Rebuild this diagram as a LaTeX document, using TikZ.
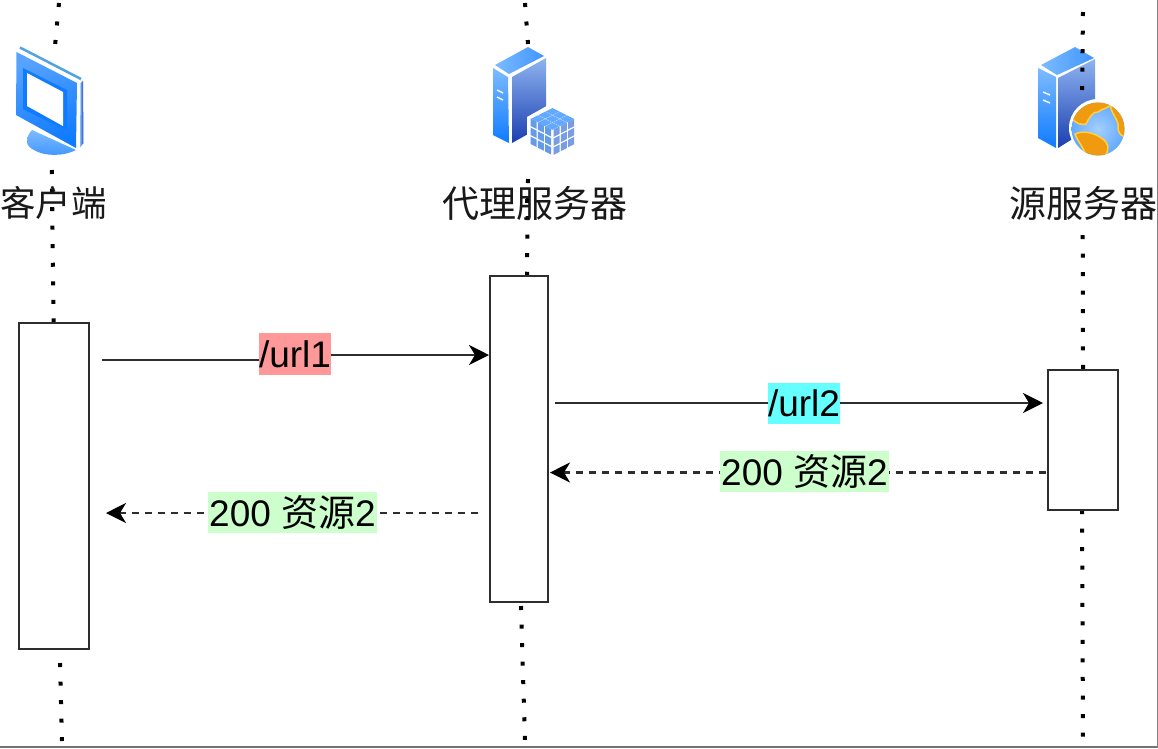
\documentclass[tikz,border=0pt]{standalone}
\usepackage{fontspec}
\setmainfont{Liberation Sans}
\newfontfamily\cjk{Noto Sans CJK SC}
\usetikzlibrary{arrows.meta}
\definecolor{lineink}{HTML}{2E2E2E}
\definecolor{skyA}{HTML}{7DBBFF}
\definecolor{skyB}{HTML}{0F7BFF}
\definecolor{navy}{HTML}{1A3FB0}
\definecolor{paleblue}{HTML}{8FB4F0}
\definecolor{tagred}{HTML}{FF9999}
\definecolor{tagcyan}{HTML}{66FFFF}
\definecolor{taggreen}{HTML}{CCFFCC}
\definecolor{land}{HTML}{F09A10}
\definecolor{shore}{HTML}{FFD040}
\tikzset{
  lifeline/.style={black,line width=4pt,dash pattern=on 4pt off 14.55pt},
  actbox/.style={draw=lineink,line width=2pt,fill=white},
  role/.style={font=\fontsize{37}{37}\selectfont\cjk,inner sep=0pt,text=black!90},
  msgtag/.style={font=\fontsize{37}{37}\selectfont,inner sep=0pt,text=black,anchor=center},
  msgline/.style={lineink,line width=2.4pt},
  msgreturn/.style={lineink,line width=2.4pt,dash pattern=on 7pt off 6pt},
  tip/.style={-{Stealth[length=20pt,width=20pt,inset=6pt,color=black]}},
  tipback/.style={{Stealth[length=20pt,width=20pt,inset=6pt,color=black]}-},
  continent/.style={fill=land,draw=shore,line width=1.5pt},
}
% Tower server drawn from its three visible faces
\newcommand{\towerface}[7]{%
  \shade[top color=#1,bottom color=#2] #3;%
  \shade[top color=#4,bottom color=#5] #6;%
  \shade[left color=skyA,right color=skyB!80!white] #7;%
}
\begin{document}
\begin{tikzpicture}[x=1pt,y=-1pt]
\useasboundingbox (0,0) rectangle (1158,748);
\fill[white] (0,0) rectangle (1158,748);

% frame edges
\fill[black!55] (0,745.5) rectangle (1158,748);
\fill[black!50] (1156.6,0) rectangle (1158,748);

% lifelines
\coordinate (cA) at (59,3); \coordinate (cB) at (55.2,44);
\coordinate (cC) at (51.8,170); \coordinate (cD) at (53.6,322);
\coordinate (cE) at (60,663); \coordinate (cF) at (62,741);
\coordinate (pA) at (525,3); \coordinate (pB) at (528,44);
\coordinate (pC) at (528,179); \coordinate (pD) at (527,276);
\coordinate (pE) at (521,606); \coordinate (pF) at (525,743);
\coordinate (sA) at (1083,12); \coordinate (sB) at (1082,90);
\coordinate (sC) at (1082.7,235); \coordinate (sD) at (1083,369);
\coordinate (sE) at (1082,510); \coordinate (sF) at (1083,741);
\foreach \a/\b in {cA/cB,cC/cD,cE/cF,pA/pB,pC/pD,pE/pF,sC/sD,sE/sF}
  \draw[lifeline] (\a) -- (\b);

% client monitor
\shade[left color=skyA,right color=navy] (80.5,83) -- (83,81) -- (83.5,143) -- (80,147.5) -- cycle;
\shade[top color=skyA,bottom color=skyB!80!white] (27,142) .. controls (27,137) and (29,133) .. (32,130) -- (76,150) .. controls (65,156) and (45,157) .. (34,150) .. controls (30,148) and (27,145) .. cycle;
\shade[top color=skyB!70!white,bottom color=skyB,shading angle=20] (16.5,52) -- (77,83) -- (76,148) -- (16,115) -- cycle;
\fill[skyB] (23,68) -- (67,90) -- (67,131) -- (23,109) -- cycle;
\fill[white] (27,73) -- (63,92) -- (63,126) -- (27,106) -- cycle;
\draw[cyan!70!blue!70!white,line width=2.5pt] (20,47.5) -- (81,79);

% proxy tower
\towerface{skyA}{skyB}{(493,68) -- (508,77) -- (509,143) -- (493,135) -- cycle}{paleblue}{navy}{(512,77) -- (546,58) -- (546,124) -- (512,143) -- cycle}{(495,65) -- (528,47) -- (544,56) -- (509,74) -- cycle}
\draw[white,line width=1.4pt] (497,90) -- (503,93) (497,97) -- (503,100);

% database cube beside the proxy tower
\fill[white] (552,103) -- (578,117) -- (578,146) -- (553,158) -- (527,146) -- (527,117) -- cycle;
\foreach \i in {0,1,2}{\foreach \j in {0,1,2}{
  % top face cells
  \fill[skyB!65!white] ({552.5+(\i-\j)*7.3},{108+(\i+\j)*3.7}) -- ++(7,3.5) -- ++(-7,3.5) -- ++(-7,-3.5) -- cycle;
  % left face cells
  \fill[skyA!75!navy] ({530.5+\i*7.3},{118.5+\i*3.8+\j*9}) -- ++(6,3) -- ++(0,7.4) -- ++(-6,-3) -- cycle;
  % right face cells
  \fill[paleblue!80!navy] ({553.5+\i*7.3},{129.5-\i*3.8+\j*9}) -- ++(6,-3) -- ++(0,7.4) -- ++(-6,3) -- cycle;
}}

% origin tower
\towerface{skyA}{skyB}{(1038,68) -- (1056,77) -- (1056,148) -- (1038,138) -- cycle}{paleblue}{navy}{(1058,78) -- (1095,59) -- (1095,125) -- (1058,148) -- cycle}{(1041,65) -- (1075,47) -- (1094,58) -- (1057,75) -- cycle}
\draw[white,line width=1.4pt] (1043,92) -- (1050,95) (1043,100) -- (1050,103);

% globe
\fill[white] (1098,128) circle (29);
\shade[inner color=skyA!70!white,outer color=skyB!65!white] (1098,129) circle (26.5);
\begin{scope}
  \clip (1098,129) circle (26.5);
  \path[continent] (1072,118) .. controls (1078,100) and (1098,98) .. (1114,101) .. controls (1108,110) and (1102,108) .. (1098,112) .. controls (1093,111) and (1089,118) .. (1086,124) .. controls (1081,125) and (1076,124) .. (1072,118) -- cycle;
  \path[continent] (1110,106) .. controls (1122,106) and (1130,120) .. (1127,137) .. controls (1122,136) and (1120,136) .. (1118,129) .. controls (1120,122) and (1113,116) .. (1110,106) -- cycle;
  \path[continent] (1075,134) .. controls (1085,129) and (1100,135) .. (1106,142) .. controls (1110,147) and (1107,154) .. (1104,158) -- (1086,156) .. controls (1084,148) and (1078,142) .. (1075,134) -- cycle;
\end{scope}

% dots that run across the origin tower
\draw[lifeline] (sA) -- (sB);

% role captions
\node[role,font=\fontsize{35.5}{36}\selectfont\cjk] (client) at (53.5,203) {客户端};
\node[role] (proxy) at (535,203) {代理服务器};
\node[role] (origin) at (1083.2,203) {源服务器};
\draw[lifeline] (527.2,199) -- (527.2,218);
\draw[lifeline] (52,207) -- (52,212);

% activation boxes
\node[actbox,minimum width=70pt,minimum height=326pt,inner sep=0pt] (boxC) at (54,486) {};
\node[actbox,minimum width=58pt,minimum height=326pt,inner sep=0pt] (boxP) at (519.3,439) {};
\node[actbox,minimum width=70pt,minimum height=140pt,inner sep=0pt] (boxS) at (1083.2,439.5) {};

% message labels
\node[msgtag,fill=tagred,minimum width=72pt,minimum height=42pt] (req1) at (295,354) {/url1};
\node[msgtag,fill=tagcyan,minimum width=72pt,minimum height=41pt] (req2) at (804,403.5) {/url2};
\node[msgtag,fill=taggreen,minimum width=169pt,minimum height=41pt] (ret1) at (804.5,471.5) {200 {\cjk 资源}2};
\node[msgtag,fill=taggreen,minimum width=169pt,minimum height=41pt] (ret2) at (292.5,512.5) {200 {\cjk 资源}2};

% messages
\coordinate (a1) at (102,360); \coordinate (a2) at (489,355);
\coordinate (b1) at (555,403); \coordinate (b2) at (1043,403);
\coordinate (c1) at (1046,472.5); \coordinate (c2) at (550,472.5);
\coordinate (d1) at (478,513); \coordinate (d2) at (106,513);
\draw[msgline] (a1) -- (req1.west |- a1);
\draw[msgline,tip] (req1.east |- a2) -- (a2);
\draw[msgline] (b1) -- (req2.west |- b1);
\draw[msgline,tip] (req2.east |- b2) -- (b2);
\draw[msgreturn] (c1) -- (ret1.east |- c1);
\draw[msgreturn,tipback] (c2) -- (ret1.west |- c2);
\draw[msgreturn] (d1) -- (ret2.east |- d1);
\draw[msgreturn,tipback] (d2) -- (ret2.west |- d2);
\end{tikzpicture}
\end{document}
